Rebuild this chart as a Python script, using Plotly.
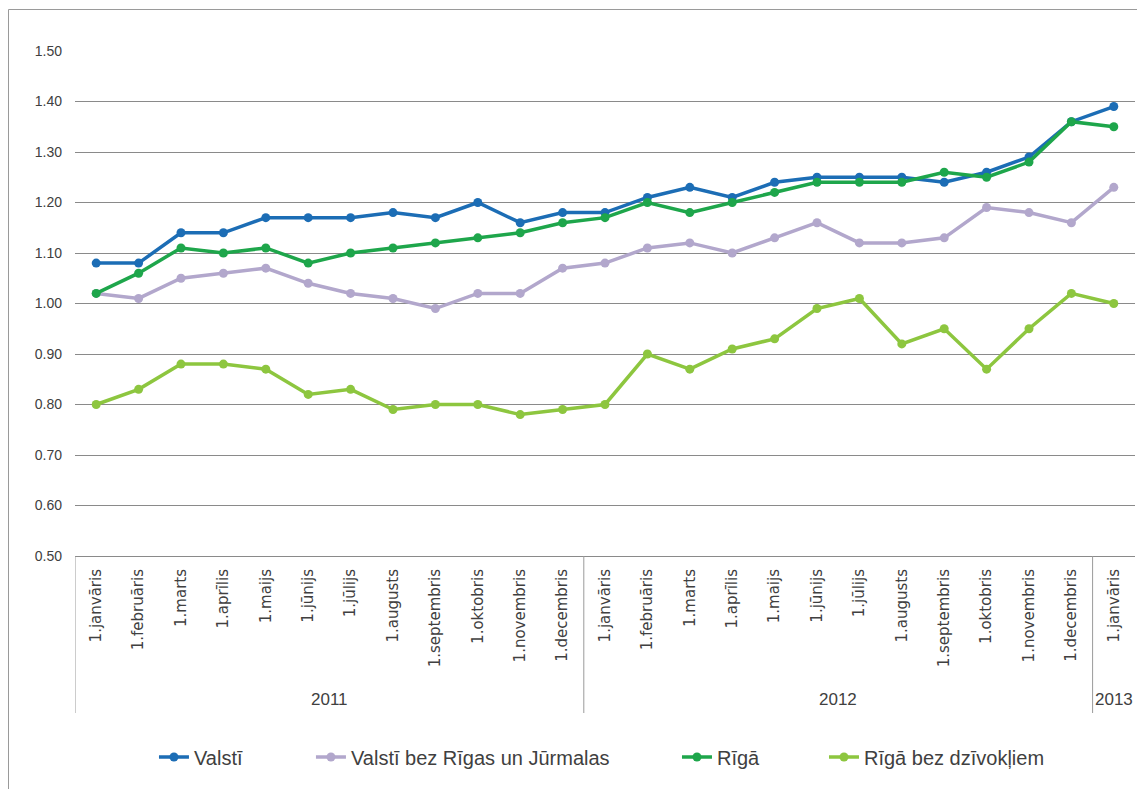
import plotly.graph_objects as go

months = ["1.janvāris", "1.februāris", "1.marts", "1.aprīlis", "1.maijs", "1.jūnijs",
          "1.jūlijs", "1.augusts", "1.septembris", "1.oktobris", "1.novembris", "1.decembris",
          "1.janvāris", "1.februāris", "1.marts", "1.aprīlis", "1.maijs", "1.jūnijs",
          "1.jūlijs", "1.augusts", "1.septembris", "1.oktobris", "1.novembris", "1.decembris",
          "1.janvāris"]
years = ["2011"] * 12 + ["2012"] * 12 + ["2013"]

valsti = [1.08, 1.08, 1.14, 1.14, 1.17, 1.17, 1.17, 1.18, 1.17, 1.20, 1.16, 1.18,
          1.18, 1.21, 1.23, 1.21, 1.24, 1.25, 1.25, 1.25, 1.24, 1.26, 1.29, 1.36, 1.39]
valsti_bez = [1.02, 1.01, 1.05, 1.06, 1.07, 1.04, 1.02, 1.01, 0.99, 1.02, 1.02, 1.07,
              1.08, 1.11, 1.12, 1.10, 1.13, 1.16, 1.12, 1.12, 1.13, 1.19, 1.18, 1.16, 1.23]
riga = [1.02, 1.06, 1.11, 1.10, 1.11, 1.08, 1.10, 1.11, 1.12, 1.13, 1.14, 1.16,
        1.17, 1.20, 1.18, 1.20, 1.22, 1.24, 1.24, 1.24, 1.26, 1.25, 1.28, 1.36, 1.35]
riga_bez = [0.80, 0.83, 0.88, 0.88, 0.87, 0.82, 0.83, 0.79, 0.80, 0.80, 0.78, 0.79,
            0.80, 0.90, 0.87, 0.91, 0.93, 0.99, 1.01, 0.92, 0.95, 0.87, 0.95, 1.02, 1.00]

series_names = ["Valstī", "Valstī bez Rīgas un Jūrmalas", "Rīgā", "Rīgā bez dzīvokļiem"]
series_values = [valsti, valsti_bez, riga, riga_bez]
series_colors = ["#1c6db5", "#b2a7cc", "#1ea64b", "#8dc63f"]
legend_ids = ["legend", "legend2", "legend3", "legend4"]
legend_x = [0.0745, 0.2226, 0.5679, 0.7066]

x = list(range(len(months)))
# page has an 8px body margin; figure sized so that it fits the 1145x797 window
OFF = 8
W, H = 1145 - OFF, 797 - 2 * OFF
PL, PR, PT, PB = 75, 1135, 51, 556  # plot area in page pixels
L, R, T = PL - OFF, (OFF + W) - PR, PT - OFF
B = H - (PB - OFF)
pw, ph = PR - PL, PB - PT

def px2x(p):
    return (p - PL) / pw

def py2y(p):
    return (PB - p) / ph

fig = go.Figure()
for name, vals, col, lid in zip(series_names, series_values, series_colors, legend_ids):
    fig.add_trace(go.Scatter(
        x=x, y=vals, name=name, mode="lines+markers",
        line=dict(color=col, width=3.5),
        marker=dict(color=col, size=9),
        legend=lid,
    ))

legend_font = dict(family="Liberation Sans, Arial, sans-serif", size=20, color="#404040")
layout_legends = {}
for lid, lx in zip(legend_ids, legend_x):
    layout_legends[lid] = dict(
        x=lx, y=py2y(757), xanchor="left", yanchor="middle",
        orientation="h", font=legend_font, bgcolor="rgba(0,0,0,0)",
    )

# group labels (years)
groups = []
for i, yv in enumerate(years):
    if not groups or groups[-1][0] != yv:
        groups.append([yv, i, i])
    else:
        groups[-1][2] = i

annotations = []
shapes = []
for yv, i0, i1 in groups:
    annotations.append(dict(
        x=(i0 + i1) / 2, y=py2y(699), xref="x", yref="paper",
        text=yv, showarrow=False, yanchor="middle", xanchor="center",
        font=dict(family="Liberation Sans, Arial, sans-serif", size=17, color="#404040"),
    ))
    shapes.append(dict(
        type="line", xref="x", yref="paper", x0=i0 - 0.5, x1=i0 - 0.5,
        y0=0, y1=py2y(713), line=dict(color="#9a9a9a", width=1),
    ))

# outer chart frame
shapes.append(dict(
    type="rect", xref="paper", yref="paper",
    x0=px2x(8.5), x1=px2x(1160), y0=py2y(810), y1=py2y(9.5),
    line=dict(color="#9a9a9a", width=1), fillcolor="rgba(0,0,0,0)", layer="below",
))

fig.update_layout(
    width=W, height=H,
    margin=dict(l=L, r=R, t=T, b=B, autoexpand=False),
    paper_bgcolor="white", plot_bgcolor="white",
    annotations=annotations, shapes=shapes,
    showlegend=True,
    **layout_legends,
)
fig.update_xaxes(
    range=[-0.5, len(months) - 0.5],
    tickmode="array", tickvals=x, ticktext=months, tickangle=-90,
    tickfont=dict(family="DejaVu Sans, sans-serif", size=15, color="#404040"),
    showgrid=False, zeroline=False, showline=True, linecolor="#8a8a8a", linewidth=1,
    ticks="", ticklabelstandoff=6, automargin=False,
)
fig.update_yaxes(
    range=[0.5, 1.5], dtick=0.1, tick0=0.5, tickformat=".2f",
    tickfont=dict(family="Liberation Sans, Arial, sans-serif", size=14, color="#404040"),
    showgrid=True, gridcolor="#8a8a8a", gridwidth=1, zeroline=False, showline=False,
    ticks="", ticklabelstandoff=12, automargin=False,
)

fig.write_html("out.html")
